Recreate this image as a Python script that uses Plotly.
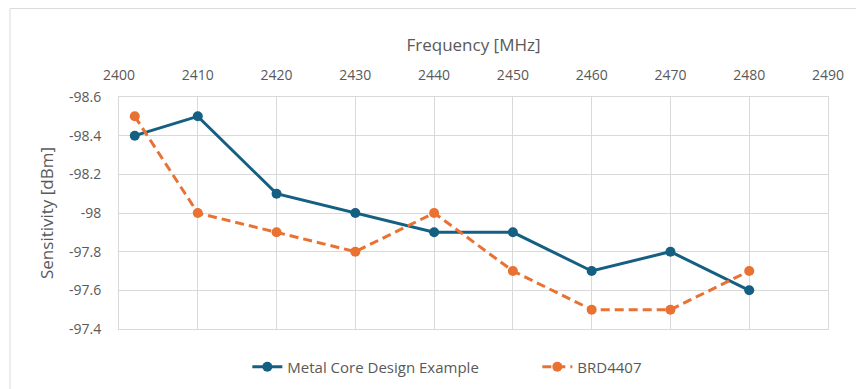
import plotly.graph_objects as go

# Measured receiver sensitivity per channel frequency
frequency_mhz = [2402, 2410, 2420, 2430, 2440, 2450, 2460, 2470, 2480]
metal_core = [-98.4, -98.5, -98.1, -98.0, -97.9, -97.9, -97.7, -97.8, -97.6]
brd4407 = [-98.5, -98.0, -97.9, -97.8, -98.0, -97.7, -97.5, -97.5, -97.7]

x_ticks = [2400, 2410, 2420, 2430, 2440, 2450, 2460, 2470, 2480, 2490]
y_ticks = [-98.6, -98.4, -98.2, -98.0, -97.8, -97.6, -97.4]
y_tick_text = ["-98.6", "-98.4", "-98.2", "-98", "-97.8", "-97.6", "-97.4"]

BLUE = "#156082"
ORANGE = "#E97132"
GRID = "#d9d9d9"
TEXT = "#595959"
FONT = "Open Sans"

fig = go.Figure()
fig.add_trace(go.Scatter(
    x=frequency_mhz, y=metal_core, name="Metal Core Design Example",
    mode="lines+markers",
    line=dict(color=BLUE, width=3),
    marker=dict(color=BLUE, size=10),
))
fig.add_trace(go.Scatter(
    x=frequency_mhz, y=brd4407, name="BRD4407",
    mode="lines+markers",
    line=dict(color=ORANGE, width=3, dash="9px,5px"),
    marker=dict(color=ORANGE, size=10),
))

fig.update_layout(
    width=856, height=389,
    margin=dict(l=119, r=28, t=97, b=60, autoexpand=False),
    paper_bgcolor="white", plot_bgcolor="white",
    font=dict(family=FONT, size=14, color=TEXT),
    showlegend=True,
    legend=dict(orientation="h", x=0.181, xanchor="left", y=-0.164, yanchor="middle",
                font=dict(size=15, color=TEXT), entrywidth=245, entrywidthmode="pixels",
                tracegroupgap=0),
    xaxis=dict(
        side="top", range=[2400, 2490], tickvals=x_ticks,
        showgrid=True, gridcolor=GRID, gridwidth=1,
        showline=True, linecolor=GRID, mirror=True, zeroline=False,
        ticks="", ticklabelstandoff=10,
        title=dict(text="Frequency [MHz]", standoff=9, font=dict(size=17, color=TEXT)),
        tickfont=dict(size=14, color=TEXT),
    ),
    yaxis=dict(
        range=[-97.4, -98.6], tickvals=y_ticks, ticktext=y_tick_text,
        showgrid=True, gridcolor=GRID, gridwidth=1,
        showline=True, linecolor=GRID, mirror=True, zeroline=False,
        ticks="", ticklabelstandoff=14,
        title=dict(text="Sensitivity [dBm]", standoff=11, font=dict(size=17, color=TEXT)),
        tickfont=dict(size=14, color=TEXT),
    ),
)

# Outer chart frame
fig.add_shape(type="rect", xref="paper", yref="paper",
              x0=-0.1537, x1=1.06, y0=-0.3, y1=1.381,
              line=dict(color=GRID, width=1), fillcolor="rgba(0,0,0,0)", layer="below")

fig.write_html("out.html")
